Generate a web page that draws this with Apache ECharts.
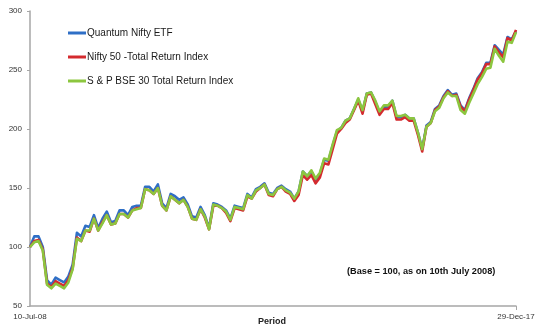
<!DOCTYPE html>
<html>
<head>
<meta charset="utf-8">
<script src="https://cdn.jsdelivr.net/npm/echarts@6/dist/echarts.min.js"></script>
<style>
  html, body { margin: 0; padding: 0; background: #ffffff; }
  #chart { width: 541px; height: 324px; }
</style>
</head>
<body>
<div id="chart"></div>
<script>
// Monthly index levels, rebased to 100 on 10-Jul-2008
const firstDate = '10-Jul-08';
const lastDate = '29-Dec-17';

const quantumNiftyEtf = [
  100,109,109,100,72,68,74,72,70,75,85,
  112,109,118,117,127,116,124,130,121,122,131,131,127,134,135,135,
  151,151,147,153,137,133,145,143,140,142,136,126,125,134,
  127,116,137,136,134,131,124,135,134,133,145,142,149,151,154,146,145,150,152,149,147,
  141,147,164,160,164,157,162,174,173,186,198,
  201,207,209,217,225,215,230,231,223,214,219,219,224,210,210,212,209,209,197,
  183,203,206,217,220,228,233,229,230,
  220,216,226,234,243,248,256,256,271,267,263,278,276,283
];

const nifty50Tri = [
  100,105,106,98,69,66,71,69,67,72,82,
  108,105,114,113,124,114,121,127,119,120,128,128,125,131,133,133,
  149,148,145,150,135,131,143,140,137,140,134,124,123,132,
  125,115,135,135,133,129,122,133,132,131,143,141,147,150,153,144,143,149,151,147,145,
  139,144,161,157,161,154,159,171,170,183,196,
  200,205,208,216,224,213,229,230,221,212,217,217,222,208,208,210,207,207,195,
  181,202,205,216,219,227,232,228,229,
  219,215,225,233,242,247,255,255,270,265,261,277,275,284
];

const bse30Tri = [
  100,104,105,97,68,65,69,67,65,70,81,
  107,105,114,114,124,114,120,127,119,120,128,128,125,131,132,133,
  149,148,145,150,135,131,143,140,137,140,134,124,123,132,
  126,115,136,135,133,130,123,134,133,132,144,141,148,150,153,145,144,149,151,148,146,
  141,147,164,160,165,158,163,175,174,187,199,
  201,207,209,217,226,216,230,231,224,215,220,220,224,211,211,212,209,209,197,
  183,202,205,215,218,226,231,228,228,
  216,213,222,230,238,244,251,252,268,262,257,274,273,282
];

const seriesNames = ['Quantum Nifty ETF', 'Nifty 50 -Total Return Index', 'S & P BSE 30 Total Return Index'];
const seriesColors = ['#2f6fc6', '#d42a2e', '#8cc63f'];
const yTicks = [50, 100, 150, 200, 250, 300];
const baseNote = '(Base = 100, as on 10th July 2008)';
const xTitle = 'Period';

// Month categories between the two end dates
const monthNames = ['Jan','Feb','Mar','Apr','May','Jun','Jul','Aug','Sep','Oct','Nov','Dec'];
const periods = [];
for (let k = 0; k < quantumNiftyEtf.length; k++) {
  if (k === 0) { periods.push(firstDate); continue; }
  if (k === quantumNiftyEtf.length - 1) { periods.push(lastDate); continue; }
  const m = (6 + k) % 12;
  const y = 8 + Math.floor((6 + k) / 12);
  periods.push(monthNames[m] + '-' + String(y).padStart(2, '0'));
}
const lastIdx = periods.length - 1;

const chart = echarts.init(document.getElementById('chart'), null, { renderer: 'canvas' });
const font = 'Liberation Sans, Arial, sans-serif';

chart.setOption({
  animation: false,
  backgroundColor: '#ffffff',
  grid: { left: 30, right: 25, top: 11, bottom: 18, containLabel: false, outerBoundsMode: 'none' },
  legend: {
    orient: 'vertical',
    left: 68,
    top: 26,
    padding: 0,
    icon: 'rect',
    itemWidth: 18,
    itemHeight: 3,
    itemGap: 10,
    textStyle: { fontFamily: font, fontSize: 10, color: '#1a1a1a', lineHeight: 14, padding: [0, 0, 0, -4] },
    data: seriesNames
  },
  xAxis: {
    type: 'category',
    boundaryGap: false,
    data: periods,
    axisLine: { lineStyle: { color: '#a6a6a6', width: 1.5 } },
    axisTick: { show: true, length: 4, interval: function (i) { return i === lastIdx; }, lineStyle: { color: '#a6a6a6' } },
    axisLabel: {
      fontFamily: font, fontSize: 8, color: '#333', margin: 7,
      interval: function (i) { return i === 0 || i === lastIdx; }
    },
    splitLine: { show: false }
  },
  yAxis: {
    type: 'value',
    min: yTicks[0],
    max: yTicks[yTicks.length - 1],
    interval: 50,
    axisLine: { show: true, lineStyle: { color: '#a6a6a6', width: 1.5 } },
    axisTick: { show: true, length: 3, lineStyle: { color: '#a6a6a6' } },
    axisLabel: { fontFamily: font, fontSize: 8, color: '#333', margin: 8 },
    splitLine: { show: false }
  },
  graphic: [{
    type: 'text',
    left: 347,
    top: 267,
    style: { text: baseNote, font: 'bold 9.2px ' + font, fill: '#111' }
  }, {
    type: 'text',
    x: 272,
    y: 317,
    style: { text: xTitle, font: 'bold 9px ' + font, fill: '#222', align: 'center', verticalAlign: 'top' }
  }],
  series: [quantumNiftyEtf, nifty50Tri, bse30Tri].map(function (vals, k) {
    return {
      name: seriesNames[k],
      type: 'line',
      data: vals,
      symbol: 'none',
      smooth: false,
      color: seriesColors[k],
      lineStyle: { width: 2.6, color: seriesColors[k], join: 'round' },
      z: 2 + k
    };
  })
});
</script>
</body>
</html>
